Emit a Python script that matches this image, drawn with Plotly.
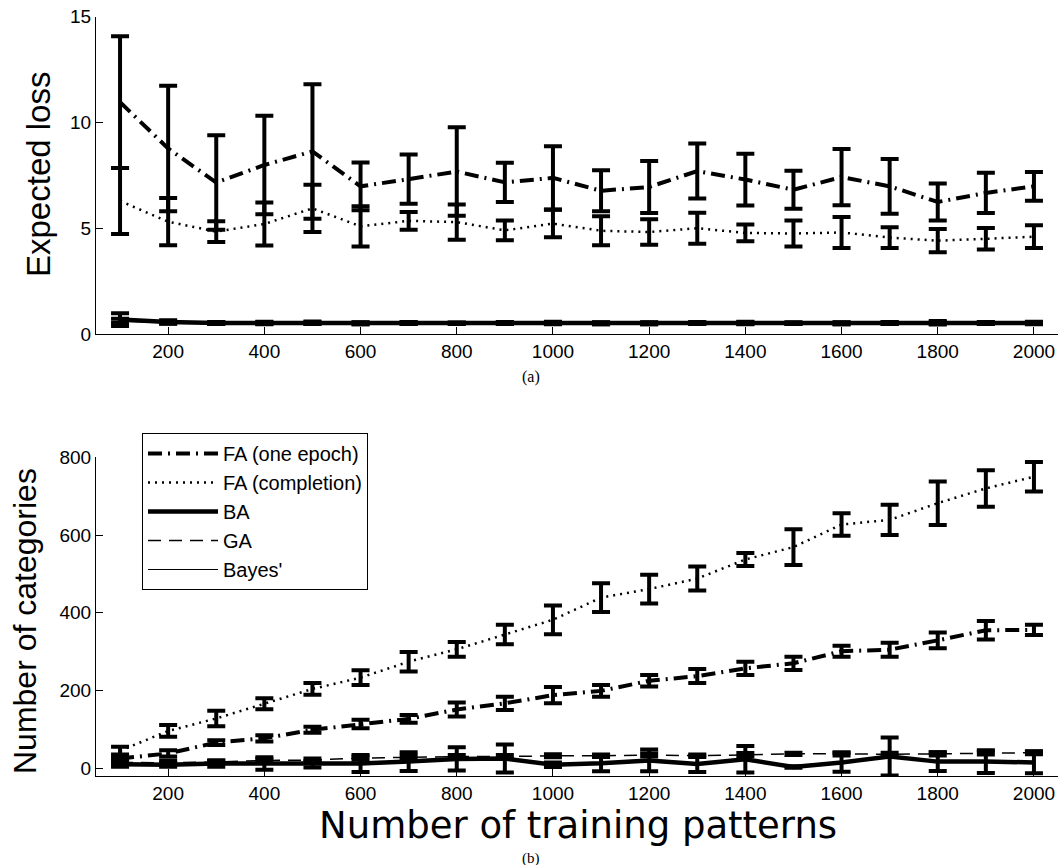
import plotly.graph_objects as go

# ---------------- data ----------------
n_patterns = [100, 200, 300, 400, 500, 600, 700, 800, 900, 1000,
              1100, 1200, 1300, 1400, 1500, 1600, 1700, 1800, 1900, 2000]

# (a) expected loss
loss_fa_one = [10.96, 8.77, 7.16, 7.99, 8.63, 6.98, 7.32, 7.68, 7.17, 7.38,
               6.77, 6.95, 7.70, 7.30, 6.82, 7.42, 6.98, 6.24, 6.67, 6.98]
loss_fa_one_err = [3.11, 2.97, 2.23, 2.33, 3.18, 1.13, 1.16, 2.09, 0.93, 1.50,
                   0.97, 1.23, 1.30, 1.22, 0.90, 1.33, 1.29, 0.87, 0.95, 0.68]
loss_fa_comp = [6.29, 5.31, 4.84, 5.20, 5.94, 5.09, 5.35, 5.29, 4.90, 5.22,
                4.88, 4.82, 5.00, 4.78, 4.75, 4.80, 4.56, 4.41, 4.50, 4.60]
loss_fa_comp_err = [1.56, 1.12, 0.49, 1.02, 1.12, 0.95, 0.42, 0.83, 0.47, 0.65,
                    0.69, 0.60, 0.73, 0.40, 0.61, 0.73, 0.49, 0.55, 0.51, 0.54]
loss_ba = [0.68, 0.57, 0.52, 0.52, 0.53, 0.51, 0.52, 0.51, 0.52, 0.52,
           0.51, 0.51, 0.52, 0.52, 0.51, 0.51, 0.52, 0.53, 0.52, 0.52]
loss_ba_err = [0.30, 0.08, 0.05, 0.06, 0.06, 0.05, 0.05, 0.03, 0.05, 0.06,
               0.05, 0.05, 0.05, 0.06, 0.04, 0.05, 0.05, 0.08, 0.05, 0.06]
loss_ga = [0.62, 0.55, 0.51, 0.51, 0.52, 0.50, 0.51, 0.50, 0.51, 0.51,
           0.50, 0.50, 0.51, 0.51, 0.50, 0.50, 0.51, 0.52, 0.51, 0.51]
loss_ga_err = [0.10, 0.05, 0.04, 0.04, 0.04, 0.04, 0.04, 0.03, 0.04, 0.04,
               0.04, 0.04, 0.04, 0.04, 0.03, 0.04, 0.04, 0.05, 0.04, 0.04]
loss_bayes = [0.60, 0.52, 0.50, 0.50, 0.50, 0.49, 0.50, 0.49, 0.50, 0.50,
              0.49, 0.49, 0.50, 0.50, 0.49, 0.49, 0.50, 0.50, 0.50, 0.50]

# (b) number of categories
cat_fa_one = [25, 38, 66, 77, 99, 114, 127, 151, 167, 188,
              199, 225, 237, 257, 270, 301, 305, 329, 355, 356]
cat_fa_one_err = [6, 8, 6, 8, 8, 11, 10, 18, 17, 21,
                  15, 15, 18, 17, 17, 14, 18, 20, 24, 13]
cat_fa_comp = [45, 96, 128, 166, 204, 233, 274, 306, 344, 382,
               439, 461, 488, 537, 569, 627, 639, 682, 720, 750]
cat_fa_comp_err = [10, 15, 20, 14, 15, 19, 25, 19, 25, 37,
                   37, 37, 31, 17, 46, 29, 39, 56, 47, 38]
cat_ba = [10, 9, 12, 12, 10, 12, 17, 24, 25, 9,
          13, 20, 11, 23, 3, 15, 30, 17, 17, 15]
cat_ba_err = [6, 5, 8, 16, 8, 22, 24, 30, 36, 6,
              21, 28, 21, 34, 2, 24, 49, 24, 29, 28]
cat_ga = [15, 14, 16, 20, 21, 26, 28, 30, 30, 32,
          32, 34, 32, 35, 37, 37, 36, 37, 39, 40]
cat_ga_err = [8, 6, 4, 4, 4, 4, 4, 4, 4, 4,
              3, 4, 3, 4, 3, 4, 4, 4, 4, 4]

x_ticks = [200, 400, 600, 800, 1000, 1200, 1400, 1600, 1800, 2000]
loss_ticks = [0, 5, 10, 15]
cat_ticks = [0, 200, 400, 600, 800]

# ---------------- styles ----------------
FONT = "Liberation Sans, Arial, sans-serif"
styles = {
    "FA (one epoch)": dict(color="black", width=4, dash="14px,6px,2px,6px"),
    "FA (completion)": dict(color="black", width=2.5, dash="2px,5px"),
    "BA": dict(color="black", width=4.5),
    "GA": dict(color="black", width=1.5, dash="13px,8px"),
    "Bayes'": dict(color="black", width=1),
}


def err(arr):
    return dict(type="data", array=arr, visible=True, color="black",
                thickness=4, width=9)


fig = go.Figure()

top = [
    ("FA (one epoch)", loss_fa_one, loss_fa_one_err),
    ("FA (completion)", loss_fa_comp, loss_fa_comp_err),
    ("BA", loss_ba, loss_ba_err),
    ("GA", loss_ga, loss_ga_err),
    ("Bayes'", loss_bayes, None),
]
for name, y, e in top:
    fig.add_trace(go.Scatter(
        x=n_patterns, y=y, name=name, mode="lines", line=styles[name],
        error_y=err(e) if e is not None else None,
        xaxis="x", yaxis="y", showlegend=True))

bottom = [
    ("FA (one epoch)", cat_fa_one, cat_fa_one_err),
    ("FA (completion)", cat_fa_comp, cat_fa_comp_err),
    ("GA", cat_ga, cat_ga_err),
    ("BA", cat_ba, cat_ba_err),
]
for name, y, e in bottom:
    fig.add_trace(go.Scatter(
        x=n_patterns, y=y, name=name, mode="lines", line=styles[name],
        error_y=err(e), xaxis="x2", yaxis="y2", showlegend=False))

W, H = 1062, 865
xdom = [96 / W, 1058 / W]
axis_common = dict(
    showline=True, linecolor="black", linewidth=1, mirror=False,
    ticks="inside", ticklen=7, tickcolor="black", tickwidth=1,
    showgrid=False, zeroline=False,
    tickfont=dict(family=FONT, size=19, color="black"),
)

fig.update_layout(
    width=W, height=H,
    margin=dict(l=0, r=0, t=0, b=0, pad=0, autoexpand=False),
    paper_bgcolor="white", plot_bgcolor="white",
    xaxis=dict(domain=xdom, range=[50, 2050], tickvals=x_ticks,
               anchor="y", **axis_common),
    yaxis=dict(domain=[1 - 334 / H, 1 - 16.7 / H], range=[0, 15],
               tickvals=loss_ticks, anchor="x", **axis_common),
    xaxis2=dict(domain=xdom, range=[50, 2050], tickvals=x_ticks,
                anchor="y2", **axis_common),
    yaxis2=dict(domain=[1 - 776 / H, 1 - 457.3 / H], range=[-20, 800],
                tickvals=cat_ticks, anchor="x2", **axis_common),
    legend=dict(
        x=142 / W, y=1 - 433 / H, xanchor="left", yanchor="top",
        bgcolor="white", bordercolor="black", borderwidth=1,
        font=dict(family=FONT, size=20, color="black"),
        itemwidth=70, tracegroupgap=0,
    ),
    showlegend=True,
)

annotations = [
    dict(text="Expected loss", x=38 / W, y=1 - 175 / H, textangle=-90,
         yanchor="middle",
         font=dict(family=FONT, size=33, color="black")),
    dict(text="Number of categories", x=25 / W, y=1 - 621 / H, textangle=-90,
         yanchor="middle",
         font=dict(family=FONT, size=32, color="black")),
    dict(text="Number of training patterns", x=578 / W, y=1 - 802 / H,
         yanchor="top",
         font=dict(family="DejaVu Sans, sans-serif", size=37, color="black")),
    dict(text="(a)", x=531 / W, y=1 - 377 / H, yanchor="middle",
         font=dict(family="Liberation Serif, Times New Roman, serif", size=16, color="black")),
    dict(text="(b)", x=531 / W, y=1 - 858 / H, yanchor="middle",
         font=dict(family="Liberation Serif, Times New Roman, serif", size=15, color="black")),
]
for a in annotations:
    a.update(xref="paper", yref="paper", showarrow=False, xanchor="center")
fig.update_layout(annotations=annotations)

fig.write_html("out.html")
